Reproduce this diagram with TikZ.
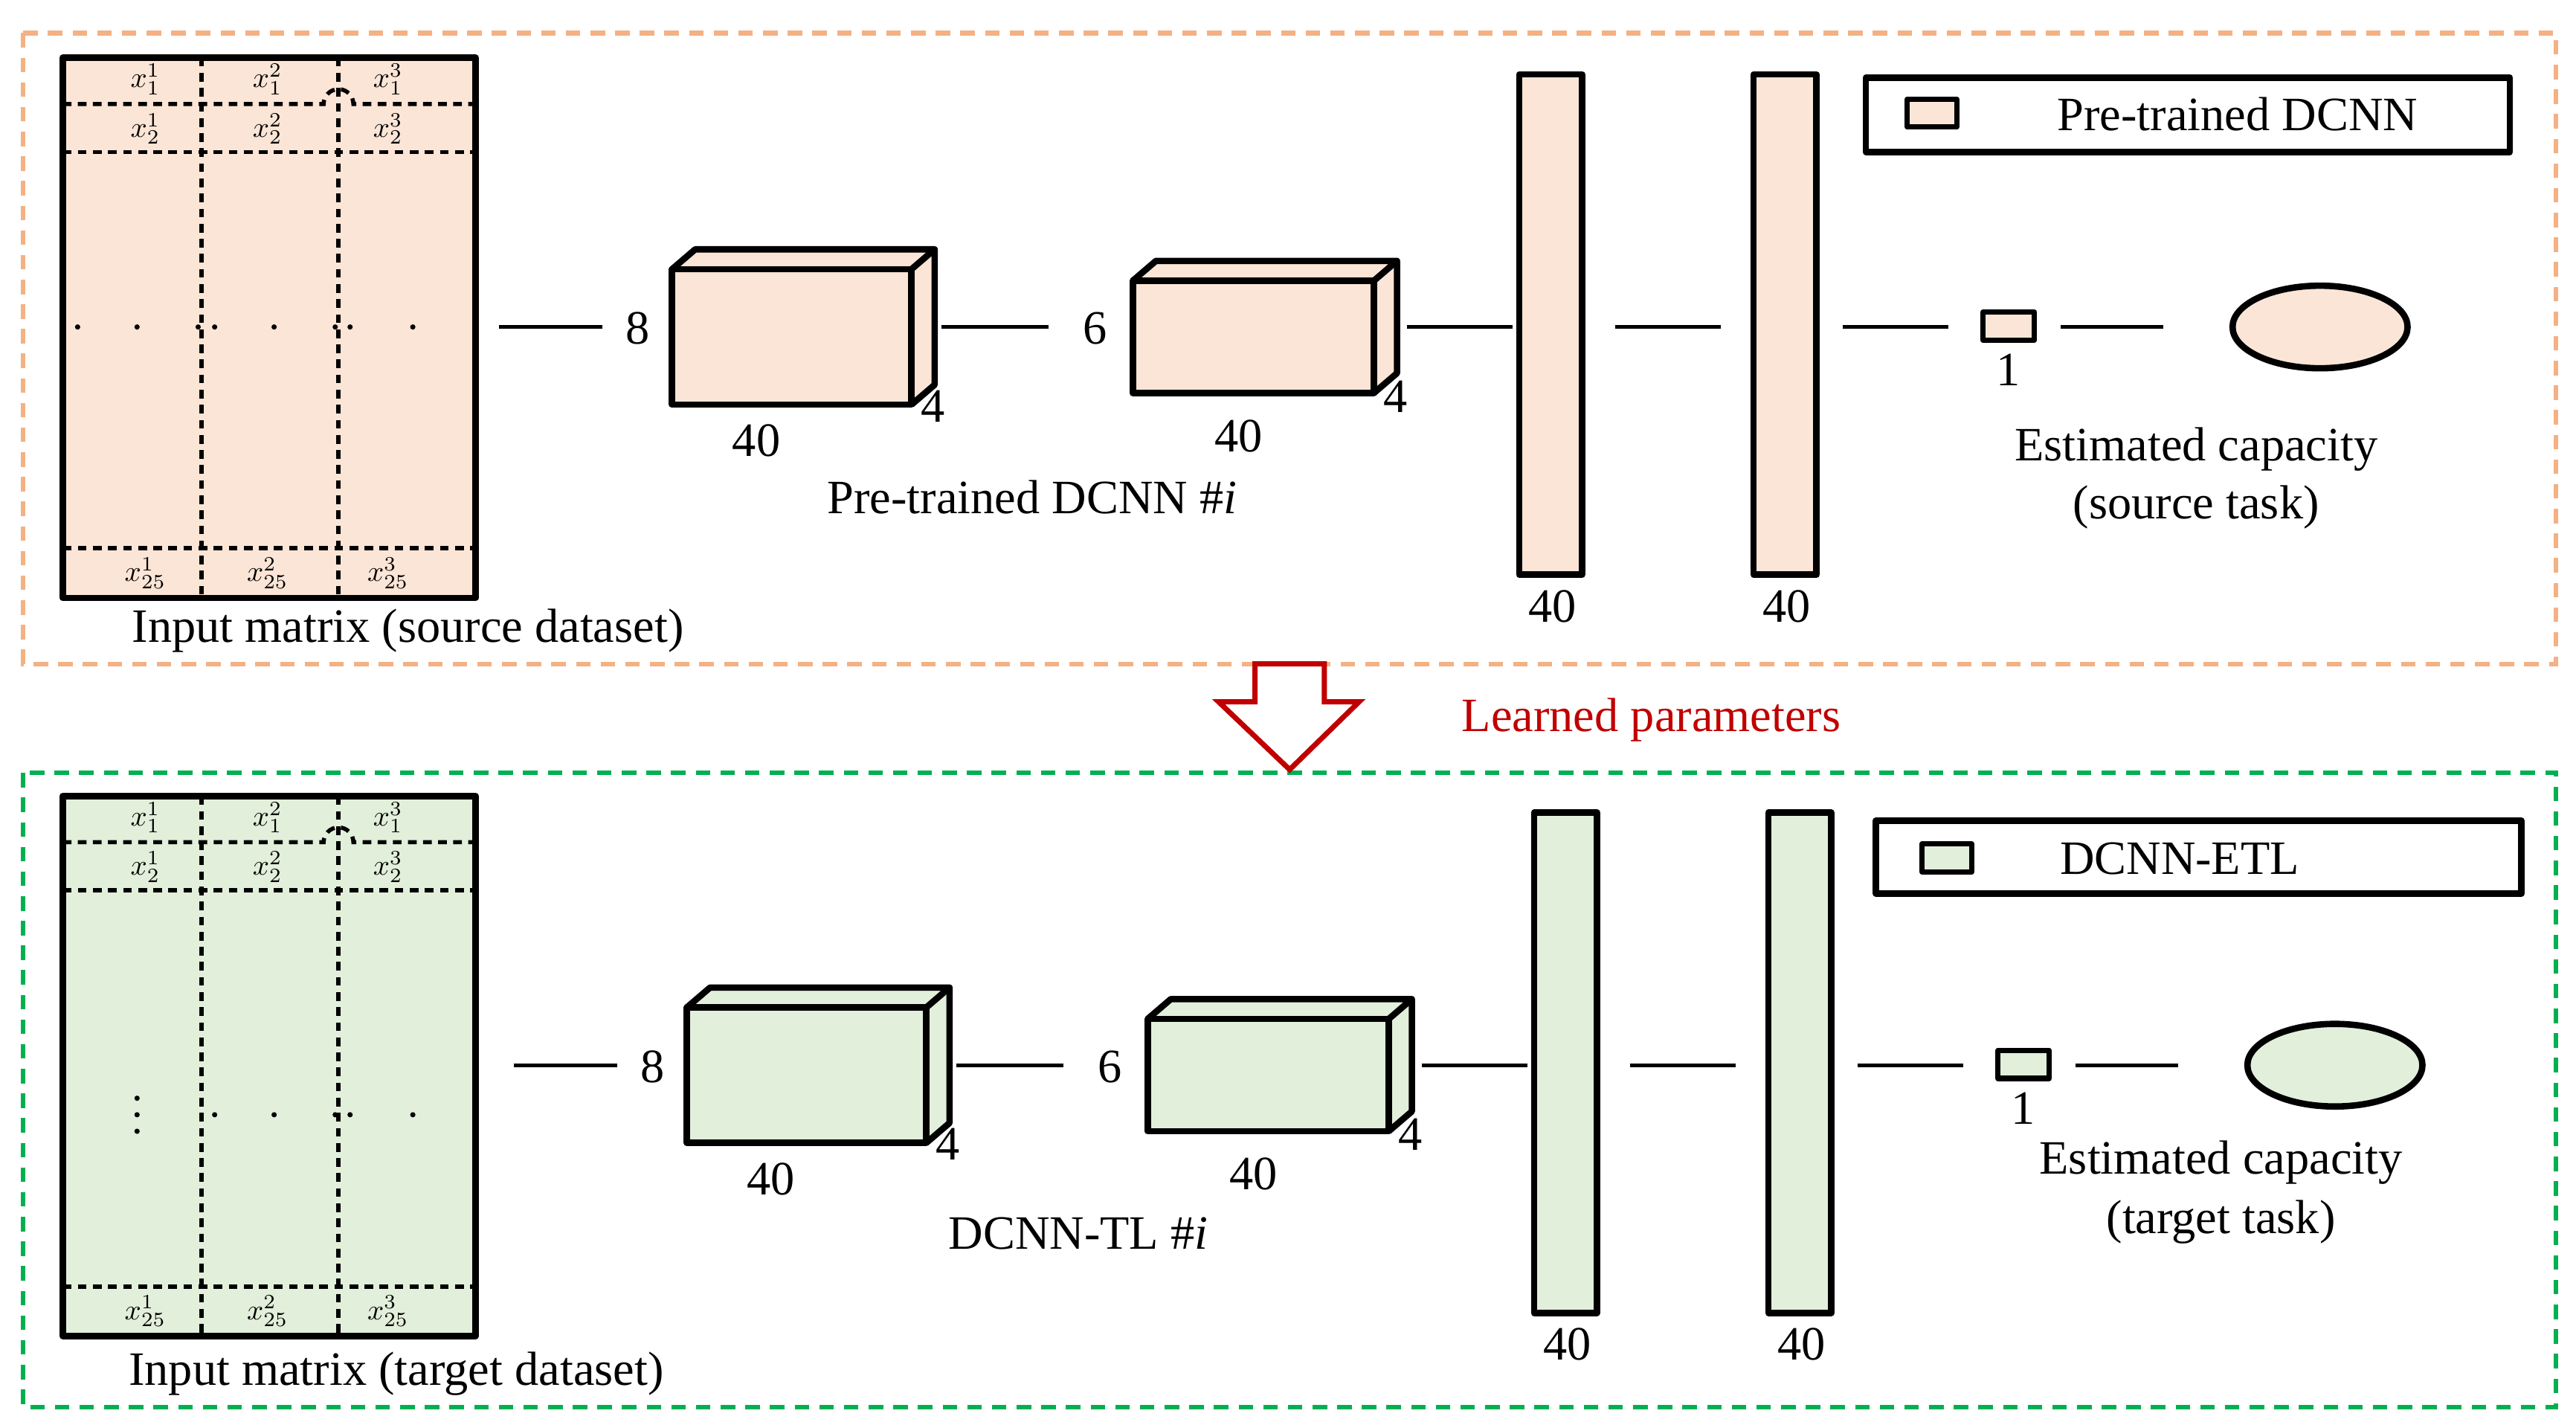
\documentclass[tikz,border=0pt]{standalone}
\usepackage{fontspec}
\setmainfont{Liberation Serif}
\begin{document}
\begin{tikzpicture}[x=0.02cm,y=-0.02cm,
 box/.style={draw=black,line width=2.2pt,line join=round},
 conn/.style={line width=1.2pt},
 grid/.style={line width=1.4pt,dash pattern=on 3pt off 2.2pt},
 lab/.style={font=\fontsize{16.5}{19}\selectfont,inner sep=0pt},
 ent/.style={font=\fontsize{10}{11}\selectfont,inner sep=0pt}]
\useasboundingbox (0,0) rectangle (1560,862.8);
\definecolor{ofill}{HTML}{FBE5D6}
\definecolor{gfill}{HTML}{E2EFDA}
\definecolor{oframe}{HTML}{F4B183}
\definecolor{gframe}{HTML}{00B050}
\definecolor{dred}{HTML}{C00000}
\newcommand\mycube[5]{% x1 y1 x2 y2 fill
  \fill[#5] (#1,#2) -- ++(14,-12) -- (#3+14,#2-12) -- (#3+14,#4-12) -- (#3,#4) -- (#1,#4) -- cycle;
  \draw[box] (#1,#2) rectangle (#3,#4);
  \draw[box] (#1,#2) -- ++(14,-12) -- (#3+14,#2-12) -- (#3,#2);
  \draw[box] (#3+14,#2-12) -- (#3+14,#4-12) -- (#3,#4);}
\newcommand\panel[6]{% dy, dx, fill, title, legend, extra
\begin{scope}[yshift=#1*-0.02cm]
 \fill[#3] (38,35) rectangle (288,362);
 \draw[grid] (38,63) -- (196,63) arc[start angle=180,end angle=360,radius=9] -- (288,63);
 \draw[grid] (38,92) -- (288,92) (38,332) -- (288,332);
 \draw[grid] (122,35) -- (122,362) (205,35) -- (205,362);
 \draw[box] (38,35) rectangle (288,362);
 \node[ent] at (88,48) {$x_1^1$}; \node[ent] at (162,48) {$x_1^2$}; \node[ent] at (235,48) {$x_1^3$};
 \node[ent] at (88,78) {$x_2^1$}; \node[ent] at (162,78) {$x_2^2$}; \node[ent] at (235,78) {$x_2^3$};
 \node[ent] at (88,347) {$x_{25}^1$}; \node[ent] at (162,347) {$x_{25}^2$}; \node[ent] at (235,347) {$x_{25}^3$};
 #6
\end{scope}
\begin{scope}[yshift=#1*-0.02cm,xshift=#2*0.02cm]
 \draw[conn] (302,198) -- (365,198);
 \node[lab] at (386,199) {8};
 \mycube{407}{163}{552}{245}{#3}
 \node[lab] at (565,246) {4}; \node[lab] at (458,267) {40};
 \draw[conn] (570,198) -- (635,198);
 \node[lab] at (663,199) {6};
 \mycube{686}{170}{832}{238}{#3}
 \node[lab] at (845,240) {4}; \node[lab] at (750,264) {40};
 \draw[conn] (852,198) -- (916,198);
 \draw[box,fill=#3] (920,45) rectangle (958,348);
 \node[lab] at (940,367) {40};
 \draw[conn] (978,198) -- (1042,198);
 \draw[box,fill=#3] (1062,45) rectangle (1100,348);
 \node[lab] at (1082,367) {40};
 \draw[conn] (1116,198) -- (1180,198);
 \draw[box,line width=1.8pt,fill=#3] (1201,189) rectangle (1232,206);
 \node[lab] at (1216,224) {1};
 \draw[conn] (1248,198) -- (1310,198);
 \draw[box,fill=#3] (1405,198) ellipse [x radius=53, y radius=25];
\end{scope}}
\draw[oframe,line width=1.6pt,dash pattern=on 5pt off 3.5pt] (14,20) rectangle (1548,402);
\draw[gframe,line width=1.6pt,dash pattern=on 5pt off 3.5pt] (14,468) rectangle (1548,852);
\panel{0}{0}{ofill}{}{}{%
 \foreach \x in {47,83,120,130,166,203,212,250} \fill (\x,198) circle (1.6);
 \node[lab] at (247,382) {Input matrix (source dataset)};
 \node[lab] at (625,301) {Pre-trained DCNN \#\textit{i}};
 \node[lab] at (1330,272) {Estimated capacity};
 \node[lab] at (1330,307) {(source task)};
 \draw[box] (1130,47) rectangle (1520,92);
 \draw[box,line width=1.8pt,fill=ofill] (1155,60) rectangle (1185,77);
 \node[lab] at (1355,69) {Pre-trained DCNN};}
\panel{447}{9}{gfill}{}{}{%
 \foreach \y in {218,228,238} \fill (83,\y) circle (1.6);
 \foreach \x in {130,166,203,212,250} \fill (\x,228) circle (1.6);
 \node[lab] at (240,385) {Input matrix (target dataset)};
 \node[lab] at (653,300) {DCNN-TL \#\textit{i}};
 \node[lab] at (1345,257) {Estimated capacity};
 \node[lab] at (1345,293) {(target task)};
 \draw[box] (1136,50) rectangle (1527,94);
 \draw[box,line width=1.8pt,fill=gfill] (1164,64) rectangle (1194,81);
 \node[lab] at (1320,73) {DCNN-ETL};}
\draw[dred,line width=1.8pt,fill=white,line join=miter] (760,402) -- (802,402) -- (802,425) -- (823,425) -- (781,466) -- (738,425) -- (760,425) -- cycle;
\node[lab,text=dred] at (1000,436) {Learned parameters};
\end{tikzpicture}
\end{document}
